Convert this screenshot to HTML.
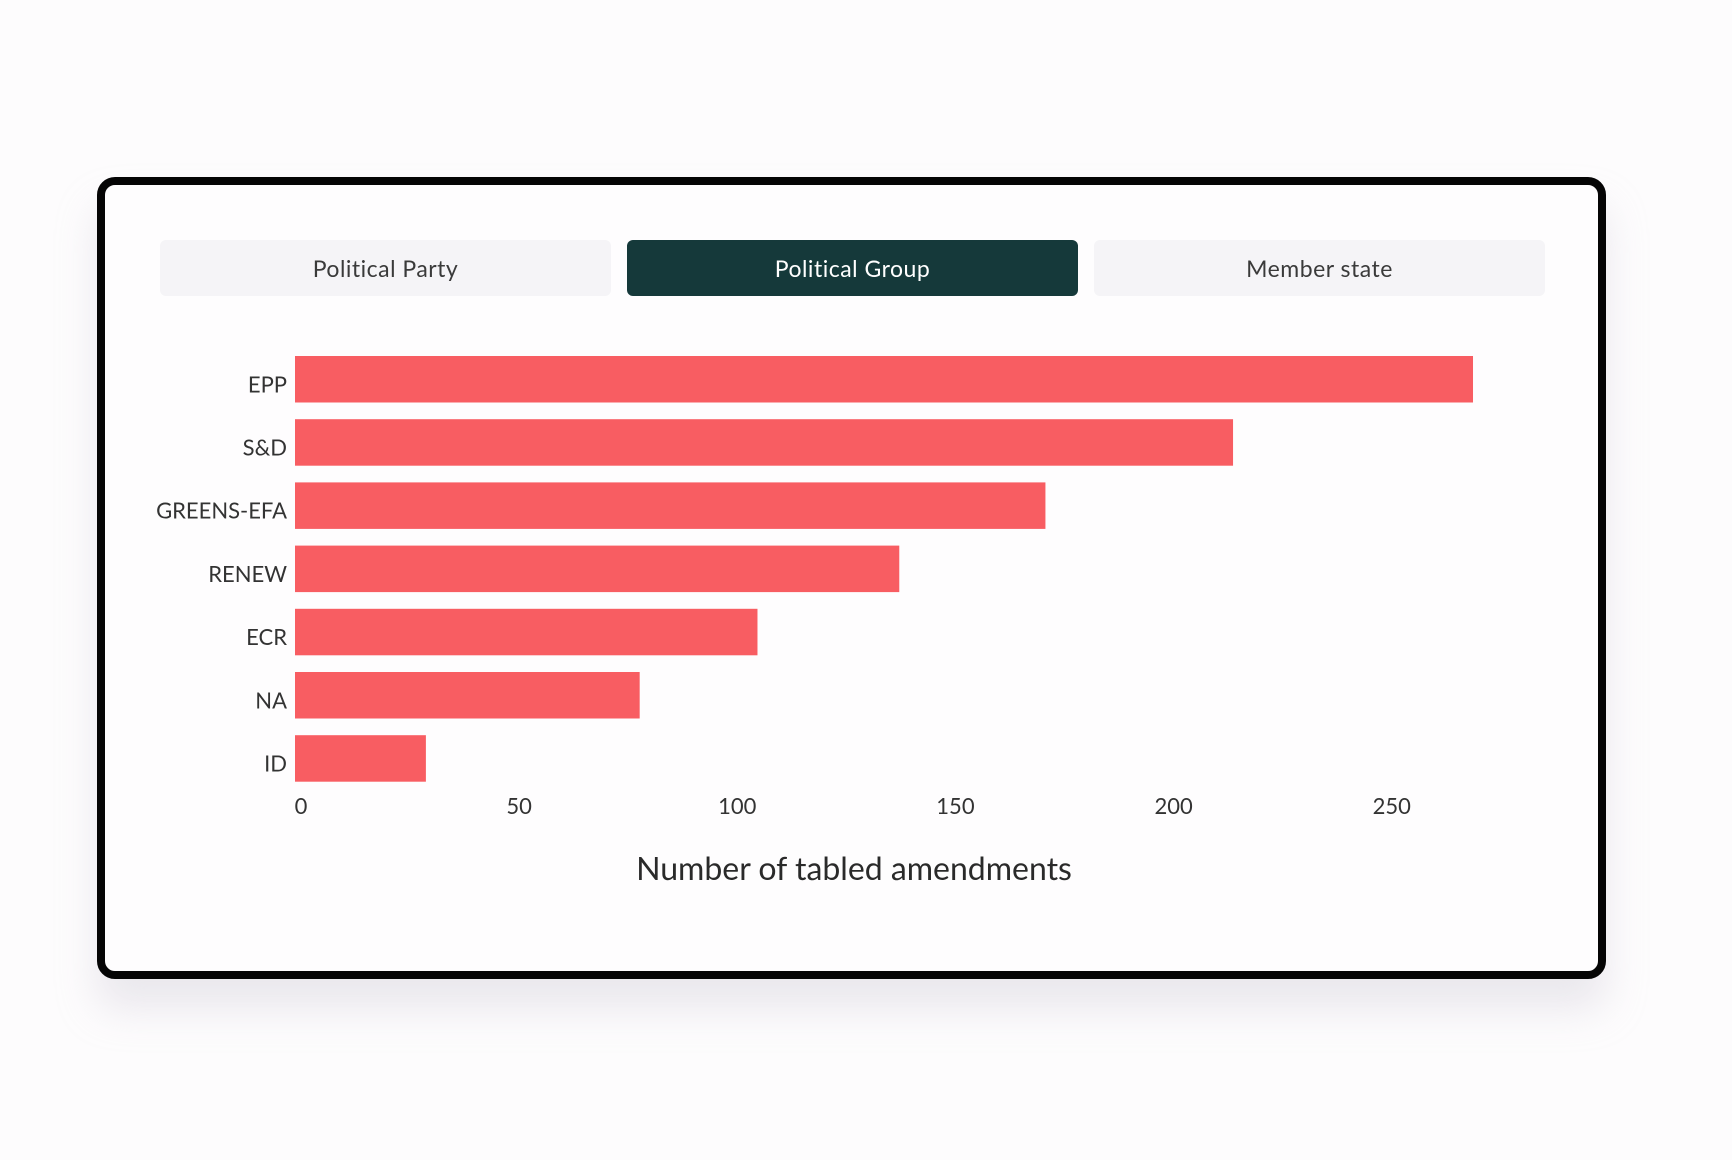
<!DOCTYPE html>
<html><head><meta charset="utf-8">
<style>
html,body{margin:0;padding:0;background:#fdfcfd;}
body{width:1732px;height:1160px;position:relative;overflow:hidden;font-family:"Lato","Liberation Sans",sans-serif;}
.card{position:absolute;left:97px;top:177px;width:1493px;height:786px;border:8px solid #050505;border-radius:18px;background:#fefdfe;box-shadow:0 30px 40px rgba(200,195,210,0.35);}
.tab{position:absolute;top:240px;height:56px;width:451px;border-radius:6px;background:#f5f4f7;color:#3a3a3a;font-size:23px;line-height:56px;text-align:center;letter-spacing:0.5px;}
.tab.active{background:#15393a;color:#fff;}
svg{position:absolute;left:0;top:0;}
</style></head><body>
<div class="card"></div>
<div class="tab" style="left:160px">Political Party</div>
<div class="tab active" style="left:627px">Political Group</div>
<div class="tab" style="left:1094px">Member state</div>
<svg id="chart" width="1732" height="1160"></svg>
<script>
const categories = ["EPP","S&D","GREENS-EFA","RENEW","ECR","NA","ID"];
const values = [270, 215, 172, 138.5, 106, 79, 30];
const ticks = [0, 50, 100, 150, 200, 250];
const axisTitle = "Number of tabled amendments";

const NS = "http://www.w3.org/2000/svg";
const svg = document.getElementById("chart");
const x0 = 295, pxPerUnit = 4.363;
const xScale = v => x0 + v * pxPerUnit;
const yTop = 356, pitch = 63.2, barH = 46.5;
const yScale = i => yTop + i * pitch;

categories.forEach((c, i) => {
  const r = document.createElementNS(NS, "rect");
  
  
  r.setAttribute("x", xScale(0));
  r.setAttribute("y", yScale(i));
  r.setAttribute("width", xScale(values[i]) - xScale(0));
  r.setAttribute("height", barH);
  r.setAttribute("fill", "#f85d62");
  svg.appendChild(r);
  const t = document.createElementNS(NS, "text");
  
  
  t.setAttribute("x", 287);
  t.setAttribute("y", yScale(i) + barH / 2 + 13);
  t.setAttribute("text-anchor", "end");
  t.setAttribute("font-size", "22");
  t.setAttribute("fill", "#333");
  t.textContent = c;
  svg.appendChild(t);
});
ticks.forEach(v => {
  const t = document.createElementNS(NS, "text");
  
  
  t.setAttribute("x", xScale(v) + 6);
  t.setAttribute("y", 814);
  t.setAttribute("text-anchor", "middle");
  t.setAttribute("font-size", "22");
  t.setAttribute("fill", "#333");
  t.textContent = v;
  svg.appendChild(t);
});
const at = document.createElementNS(NS, "text");


at.setAttribute("x", 854);
at.setAttribute("y", 880);
at.setAttribute("text-anchor", "middle");
at.setAttribute("font-size", "32");
at.setAttribute("fill", "#2a2a2a");
at.textContent = axisTitle;
svg.appendChild(at);
</script>
</body></html>
